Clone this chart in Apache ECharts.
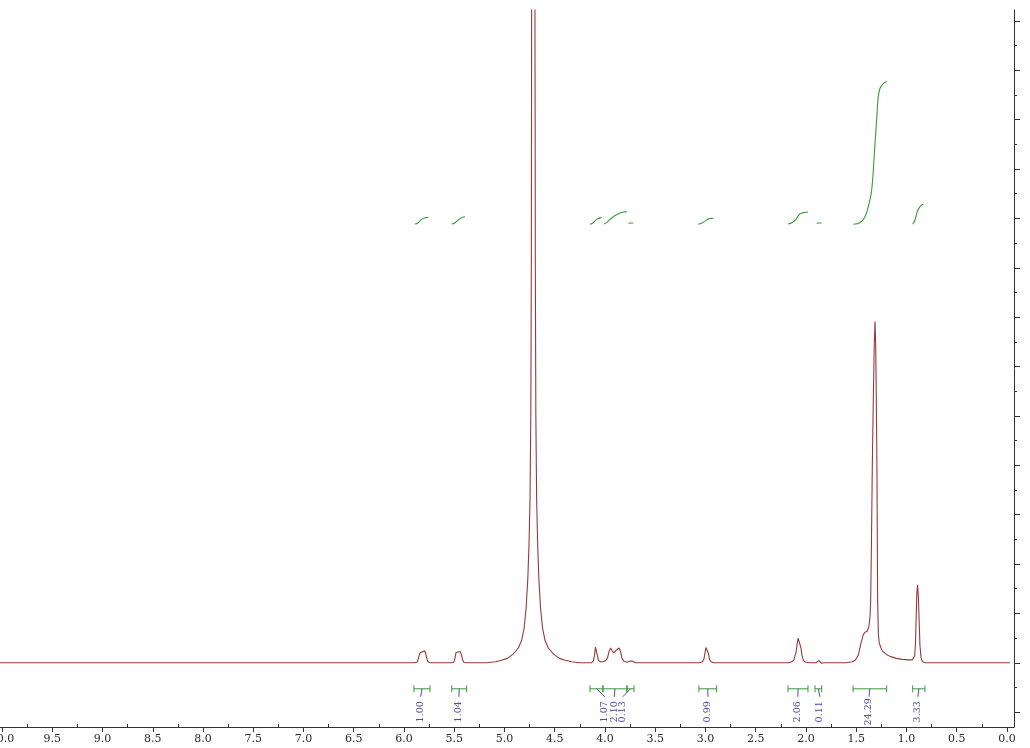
<!DOCTYPE html>
<html><head><meta charset="utf-8">
<script src="https://cdn.jsdelivr.net/npm/echarts@6/dist/echarts.min.js"></script>
<style>html,body{margin:0;padding:0;background:#fff}#c{width:1030px;height:748px}</style>
</head><body><div id="c"></div>
<script>
// ---- axis ticks (ppm / intensity units) ----
const ppmTickLabels = [0,0.5,1,1.5,2,2.5,3,3.5,4,4.5,5,5.5,6,6.5,7,7.5,8,8.5,9,9.5,10];
const ppmMinorTicks = [0.25,0.75,1.25,1.75,2.25,2.75,3.25,3.75,4.25,4.75,5.25,5.75,6.25,6.75,7.25,7.75,8.25,8.75,9.25,9.75];
const intensityMajorTicks = [-1,0,1,2,3,4,5,6,7,8,9,10,11,12,13];
const intensityMinorTicks = [-0.5,0.5,1.5,2.5,3.5,4.5,5.5,6.5,7.5,8.5,9.5,10.5,11.5,12.5];

// ---- spectrum, [ppm, intensity] ----
const baselineLow = [[10.02,0],[5.90,0]];
const peak582 = [[5.87,0.01],[5.855,0.1],[5.842,0.2],[5.832,0.235],[5.82,0.22],[5.808,0.225],[5.795,0.245],[5.785,0.2],[5.775,0.1],[5.762,0.02],[5.74,0]];
const peak545 = [[5.53,0],[5.505,0.01],[5.492,0.1],[5.482,0.21],[5.474,0.24],[5.462,0.22],[5.45,0.225],[5.44,0.23],[5.43,0.17],[5.418,0.07],[5.405,0.01],[5.38,0]];
const peak471 = [[5.18,0],[5.09,0.02],[5.031,0.05],[4.972,0.09],[4.912,0.18],[4.862,0.3],[4.830,0.45],[4.805,0.7],[4.785,1.1],[4.768,1.7],[4.756,2.4],[4.746,3.3],[4.738,5],[4.733,8],[4.731,11],[4.730,13.3],[4.713,18],[4.697,13.3],[4.695,11],[4.693,8],[4.688,5],[4.680,3.3],[4.670,2.4],[4.658,1.7],[4.641,1.1],[4.621,0.7],[4.596,0.45],[4.564,0.3],[4.514,0.18],[4.454,0.09],[4.395,0.05],[4.335,0.02],[4.25,0]];
const peaks409to373 = [[4.135,0],[4.115,0.04],[4.103,0.17],[4.095,0.32],[4.090,0.36],[4.085,0.32],[4.077,0.16],[4.065,0.05],[4.045,0.02],[4.02,0.02],[3.995,0.04],[3.975,0.1],[3.958,0.24],[3.943,0.30],[3.93,0.25],[3.915,0.2],[3.90,0.21],[3.885,0.26],[3.868,0.3],[3.858,0.30],[3.845,0.22],[3.83,0.09],[3.812,0.03],[3.78,0.01],[3.748,0.035],[3.734,0.055],[3.722,0.03],[3.70,0]];
const peak299 = [[3.06,0],[3.03,0.02],[3.015,0.08],[3.003,0.22],[2.995,0.31],[2.988,0.33],[2.98,0.3],[2.972,0.2],[2.96,0.07],[2.945,0.02],[2.92,0]];
const peak207 = [[2.17,0],[2.14,0.02],[2.12,0.06],[2.10,0.2],[2.088,0.38],[2.078,0.5],[2.07,0.52],[2.062,0.48],[2.05,0.3],[2.04,0.15],[2.025,0.05],[2.0,0.01],[1.96,0]];
const peak187 = [[1.90,0],[1.882,0.03],[1.870,0.045],[1.858,0.02],[1.845,-0.01],[1.82,0]];
const peak131 = [[1.60,0],[1.54,0.02],[1.51,0.05],[1.48,0.15],[1.455,0.38],[1.43,0.57],[1.413,0.62],[1.392,0.64],[1.375,0.72],[1.362,0.95],[1.356,1.27],[1.348,2.5],[1.340,3.97],[1.330,5.32],[1.320,6.5],[1.313,6.91],[1.306,6.4],[1.300,5.32],[1.294,3.97],[1.287,1.27],[1.280,0.6],[1.271,0.4],[1.25,0.28],[1.231,0.22],[1.20,0.17],[1.164,0.13],[1.10,0.09],[1.04,0.07],[0.98,0.06],[0.94,0.06]];
const peak089 = [[0.93,0.07],[0.918,0.15],[0.91,0.4],[0.905,0.81],[0.897,1.4],[0.889,1.58],[0.881,1.3],[0.873,0.81],[0.866,0.35],[0.855,0.1],[0.84,0.02],[0.81,0]];
const baselineHigh = [[-0.03,0]];

// ---- integrals ----
const integralValues = [1.00,1.04,1.07,2.10,0.13,0.99,2.06,0.11,24.29,3.33];
const integralStart = [5.901,5.525,4.149,4.020,3.781,3.065,2.179,1.910,1.532,0.938];
const integralEnd   = [5.741,5.376,4.020,3.781,3.711,2.889,1.980,1.844,1.197,0.816];
const integralLabelAt = [5.834,5.453,4.000,3.907,3.824,2.975,2.080,1.861,1.373,0.886];
const integralCurves = [
  [[5.891,8.887],[5.865,8.90],[5.84,8.95],[5.81,9.0],[5.78,9.018],[5.758,9.022]],
  [[5.525,8.887],[5.50,8.90],[5.47,8.95],[5.44,9.0],[5.41,9.028],[5.393,9.034]],
  [[4.149,8.881],[4.125,8.90],[4.10,8.95],[4.075,8.99],[4.05,9.01],[4.033,9.015]],
  [[4.010,8.887],[3.98,8.92],[3.95,8.98],[3.90,9.06],[3.85,9.11],[3.81,9.13],[3.784,9.136]],
  [[3.768,8.901],[3.74,8.905],[3.718,8.907]],
  [[3.072,8.881],[3.04,8.90],[3.00,8.95],[2.97,8.99],[2.94,9.0],[2.922,9.002]],
  [[2.179,8.887],[2.14,8.91],[2.10,8.98],[2.06,9.09],[2.02,9.12],[1.98,9.13]],
  [[1.894,8.901],[1.87,8.905],[1.844,8.907]],
  [[1.529,8.881],[1.463,8.913],[1.413,9.035],[1.380,9.237],[1.346,9.575],[1.313,10.52],[1.297,10.99],[1.281,11.46],[1.264,11.63],[1.231,11.73],[1.197,11.77]],
  [[0.938,8.881],[0.915,8.968],[0.892,9.136],[0.866,9.237],[0.833,9.291]]
];

const spectrum = [].concat(baselineLow, peak582, peak545, peak471, peaks409to373, peak299, peak207, peak187, peak131, peak089, baselineHigh);

const SPEC = '#963a3a', GREEN = '#3a983a', BLUE = '#4f4f9c', AXIS = '#333';
const chart = echarts.init(document.getElementById('c'), null, {renderer:'canvas'});

const xCommon = {type:'value', inverse:true, min:-0.07, max:10.02, position:'bottom', splitLine:{show:false}};
const yCommon = {type:'value', min:-1.3, max:13.22, position:'right', splitLine:{show:false}, axisLabel:{show:false}};

const integralSeries = integralCurves.map(c => ({
  type:'line', data:c, xAxisIndex:0, yAxisIndex:0, showSymbol:false, smooth:0.35,
  lineStyle:{color:GREEN, width:1.1}, silent:true, animation:false, z:3
}));

chart.setOption({
  animation:false,
  grid:{left:0, right:16, top:10, bottom:21, containLabel:false, outerBoundsMode:'none'},
  xAxis:[
    Object.assign({}, xCommon, {
      axisLine:{show:true, onZero:false, lineStyle:{color:AXIS, width:1}},
      axisTick:{show:true, inside:false, length:5, customValues:ppmTickLabels, lineStyle:{color:AXIS}},
      axisLabel:{show:true, customValues:ppmTickLabels, margin:7, color:'#2a2a2a', fontSize:11, fontFamily:'DejaVu Serif',
        formatter:v => v.toFixed(1)}
    }),
    Object.assign({}, xCommon, {
      axisLine:{show:false, onZero:false},
      axisTick:{show:true, inside:true, length:3, customValues:ppmMinorTicks, lineStyle:{color:AXIS}},
      axisLabel:{show:false}
    })
  ],
  yAxis:[
    Object.assign({}, yCommon, {
      axisLine:{show:true, onZero:false, lineStyle:{color:AXIS, width:1}},
      axisTick:{show:true, inside:false, length:6, customValues:intensityMajorTicks, lineStyle:{color:AXIS}}
    }),
    Object.assign({}, yCommon, {
      axisLine:{show:false, onZero:false},
      axisTick:{show:true, inside:false, length:3, customValues:intensityMinorTicks, lineStyle:{color:AXIS}}
    })
  ],
  series:[
    {type:'line', data:spectrum, xAxisIndex:0, yAxisIndex:0, showSymbol:false, clip:true,
      lineStyle:{color:SPEC, width:1.1}, silent:true, z:2},
    ...integralSeries,
    {type:'custom', xAxisIndex:0, yAxisIndex:0, silent:true, z:4,
      data: integralValues.map((v,i) => [integralStart[i], integralEnd[i], integralLabelAt[i], 0]),
      encode:{x:[0,1,2], y:3},
      renderItem:function(params, api){
        const s = api.coord([api.value(0), 0]);
        const e = api.coord([api.value(1), 0]);
        const l = api.coord([api.value(2), 0]);
        const y = s[1] + 26;
        const cx = (s[0] + e[0]) / 2;
        return {type:'group', children:[
          {type:'line', shape:{x1:s[0], y1:y, x2:e[0], y2:y}, style:{stroke:GREEN, lineWidth:1}},
          {type:'line', shape:{x1:s[0], y1:y-3.5, x2:s[0], y2:y+3.5}, style:{stroke:GREEN, lineWidth:1}},
          {type:'line', shape:{x1:e[0], y1:y-3.5, x2:e[0], y2:y+3.5}, style:{stroke:GREEN, lineWidth:1}},
          {type:'line', shape:{x1:cx, y1:y, x2:l[0], y2:y+8}, style:{stroke:BLUE, lineWidth:1}},
          {type:'text', x:l[0], y:y+23, rotation:Math.PI/2,
            style:{text:integralValues[params.dataIndex].toFixed(2), fill:BLUE,
              font:'9.5px "DejaVu Serif"', align:'center', verticalAlign:'middle'}}
        ]};
      }
    }
  ]
});
</script>
</body></html>
